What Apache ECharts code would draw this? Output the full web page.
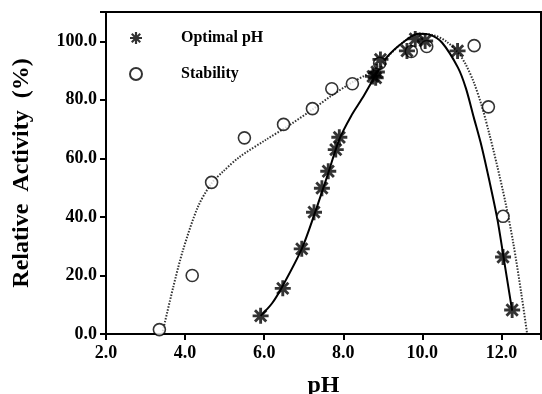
<!DOCTYPE html>
<html>
<head>
<meta charset="utf-8">
<script src="https://cdn.jsdelivr.net/npm/echarts@6/dist/echarts.min.js"></script>
<style>html,body{margin:0;padding:0;background:#fff}#c{width:542px;height:394px}</style>
</head>
<body>
<div id="c"></div>
<script>
// Measured points
var optimalX = [5.91, 6.47, 6.95, 7.26, 7.46, 7.62, 7.81, 7.90, 8.75, 8.82, 8.85, 8.94, 9.61, 9.82, 10.07, 10.89, 12.04, 12.27];
var optimalY = [6.2, 15.6, 29.1, 41.6, 49.8, 55.6, 63.0, 67.2, 88.0, 87.5, 89.5, 93.8, 96.7, 100.8, 100.1, 96.7, 26.3, 8.2];
var stabilityX = [3.35, 4.18, 4.67, 5.50, 6.49, 7.22, 7.71, 8.23, 8.92, 9.72, 10.11, 11.31, 11.67, 12.04];
var stabilityY = [1.5, 20.0, 51.8, 67.0, 71.6, 77.0, 83.8, 85.5, 92.5, 96.5, 98.2, 98.5, 77.6, 40.2];
// Fitted curves
var optimalFitX = [5.91, 6.2, 6.47, 6.95, 7.26, 7.62, 7.9, 8.2, 8.48, 8.8, 9.1, 9.5, 9.9, 10.2, 10.5, 10.9, 11.1, 11.3, 11.5, 11.7, 11.9, 12.05, 12.27];
var optimalFitY = [6.2, 10.5, 16.5, 29.1, 40.5, 55, 66.5, 74.5, 80.5, 88, 94.5, 99.5, 102.6, 102.2, 99.5, 91, 84, 74, 64, 52, 39, 26.5, 8];
var stabilityFitX = [3.42, 3.7, 3.95, 4.33, 4.67, 4.96, 5.38, 6.05, 6.6, 7.22, 7.71, 8.23, 8.73, 9.1, 9.5, 9.9, 10.3, 10.6, 10.91, 11.1, 11.3, 11.5, 11.7, 11.9, 12.1, 12.3, 12.5, 12.65];
var stabilityFitY = [0, 16, 28.8, 43.6, 51.5, 55.5, 60.5, 66.4, 71, 76.7, 81.5, 86, 89.8, 94.5, 99.5, 102.6, 102, 100, 96, 92, 86, 78, 68, 57, 45, 31, 14, 0];
var xTicks = [2, 4, 6, 8, 10, 12];
var yTicks = [0, 20, 40, 60, 80, 100];
var legendNames = ['Optimal pH', 'Stability'];

function pairs(xs, ys) { return xs.map(function (x, i) { return [x, ys[i]]; }); }

var star = 'path://M-1.8,-10L1.8,-10L1.8,10L-1.8,10Z M-10,-1.8L10,-1.8L10,1.8L-10,1.8Z M-5.8,-8.3L8.3,5.8L5.8,8.3L-8.3,-5.8Z M5.8,-8.3L8.3,-5.8L-5.8,8.3L-8.3,5.8Z';
var font = '"Liberation Serif", "Times New Roman", serif';

var chart = echarts.init(document.getElementById('c'), null, {renderer: 'canvas'});
chart.setOption({
  animation: false,
  backgroundColor: '#fff',
  grid: {left: 106, right: 1, top: 12, bottom: 60, show: true, borderColor: '#000', borderWidth: 2,
    containLabel: false, outerBoundsMode: 'none'},
  legend: {
    data: legendNames,
    orient: 'vertical', left: 124, top: 25,
    itemWidth: 12, itemHeight: 12, itemGap: 20,
    textStyle: {fontFamily: font, fontWeight: 'bold', fontSize: 16, color: '#000', padding: [0, 0, 0, 34]}
  },
  xAxis: {
    type: 'value', min: 2, max: 13, interval: 2,
    name: 'pH', nameLocation: 'middle', nameGap: 40,
    nameTextStyle: {fontFamily: font, fontWeight: 'bold', fontSize: 24, color: '#000'},
    axisLine: {lineStyle: {color: '#000', width: 2}},
    axisTick: {show: true, inside: false, length: 6, lineStyle: {color: '#000', width: 2}},
    axisLabel: {customValues: xTicks, margin: 10, formatter: function (v) { return v.toFixed(1); },
      fontFamily: font, fontWeight: 'bold', fontSize: 18, color: '#000'},
    splitLine: {show: false}
  },
  yAxis: {
    type: 'value', min: 0, max: 110, interval: 20,
    name: 'Relative  Activity  (%)', nameLocation: 'middle', nameGap: 72,
    nameTextStyle: {fontFamily: font, fontWeight: 'bold', fontSize: 24, color: '#000'},
    axisLine: {lineStyle: {color: '#000', width: 2}},
    axisTick: {show: true, inside: false, length: 6, lineStyle: {color: '#000', width: 2}},
    axisLabel: {customValues: yTicks, margin: 9, formatter: function (v) { return v.toFixed(1); },
      fontFamily: font, fontWeight: 'bold', fontSize: 18, color: '#000'},
    splitLine: {show: false}
  },
  series: [
    {name: 'fitStability', type: 'line', data: pairs(stabilityFitX, stabilityFitY), smooth: 0.3,
      showSymbol: false, lineStyle: {color: '#333', width: 2, type: [1.5, 1.5]}, z: 2},
    {name: 'fitOptimal', type: 'line', data: pairs(optimalFitX, optimalFitY), smooth: 0.3,
      showSymbol: false, lineStyle: {color: '#000', width: 2}, z: 3},
    {name: 'Optimal pH', type: 'scatter', data: pairs(optimalX, optimalY), symbol: star, symbolSize: 16,
      itemStyle: {color: '#000'}, z: 5},
    {name: 'Stability', type: 'scatter', data: pairs(stabilityX, stabilityY), symbol: 'circle', symbolSize: 12,
      itemStyle: {color: '#fff', borderColor: '#000', borderWidth: 1.6}, z: 4}
  ]
});
</script>
</body>
</html>
